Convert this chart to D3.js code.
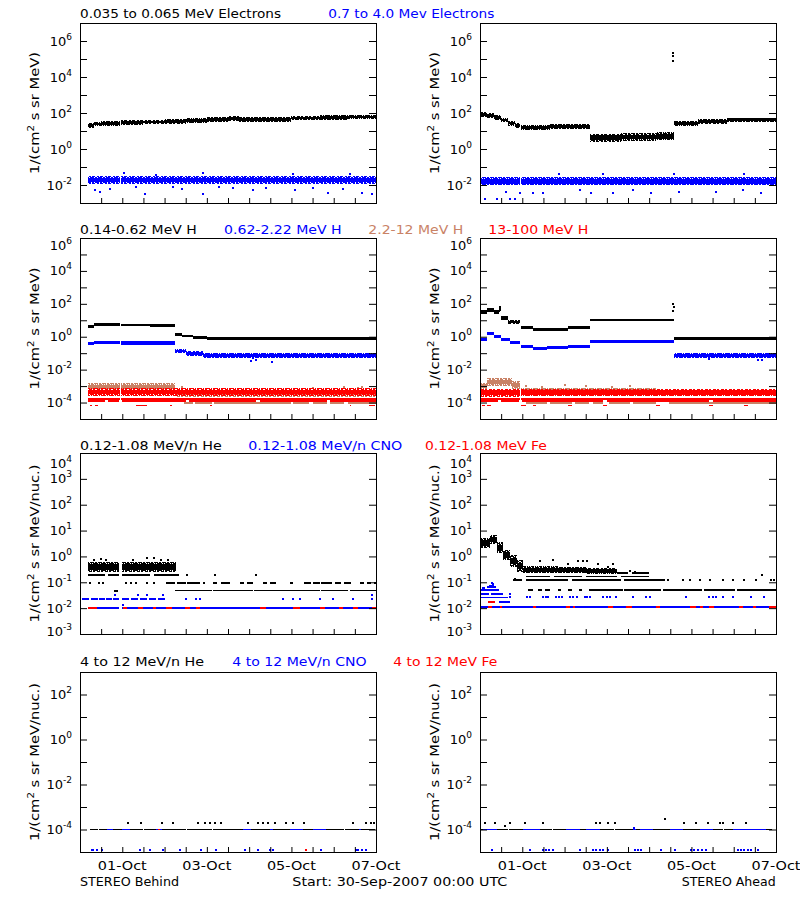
<!DOCTYPE html>
<html><head><meta charset="utf-8">
<script src="https://cdn.jsdelivr.net/npm/d3@7"></script>
<style>
body{margin:0;background:#fff}
svg{display:block;font-family:"DejaVu Sans",sans-serif}
.data rect{shape-rendering:crispEdges}
</style></head><body>
<svg id="c" width="800" height="900"></svg>
<script>
// ---------------- DATA (hours since 30-Sep-2007 00:00 UTC) ----------------
// band: [t0, t1, low, high]   level line: [t0, t1, value]   point: [t, value]

// Row 1: electrons
const behindElecLow = [[4.5,8,15,28],[8,12,18,32],[12,22.5,20,37],[23.5,36,21,40],[36,48,23,43],[48,60,25,47],[60,72,28,52],[72,84,32,58],[84,90,36,64],[90,108,32,58],[108,120,33,60],[120,136,39,70],[136,152,41,74],[152,168,45,80]];
const behindElecHigh = [[4.5,22.5,0.011,0.032],[23.5,168,0.011,0.032]];
const behindElecHighPts = [[8.5,0.0052],[11.3,0.0043],[17,0.006],[25,0.045],[32,0.0078],[36.8,0.0032],[43,0.036],[53,0.0078],[58,0.006],[69.9,0.0032],[70,0.045],[79,0.0078],[86.8,0.0065],[98,0.0052],[105.7,0.0065],[121,0.042],[121.8,0.0052],[132,0.007],[140.7,0.0035],[149,0.006],[153,0.04],[160,0.0035],[166,0.0032]];
const aheadElecLow = [[0,4,60,120],[4,8,52,100],[8,12,42,80],[12,16,30,55],[16,20,20,38],[20,22.5,15,28],[23.5,40,12,22],[40,62.3,13,25],[62.3,80,2.6,7],[80,100,2.8,7.5],[100,110,3,8.5],[110,124,20,36],[124,140,26,46],[140,168,32,56]];
const aheadElecLowPts = [[109.6,2.2e5],[109.8,1.5e5],[109.5,8e4]];
const aheadElecHigh = [[0,22.5,0.0095,0.028],[23.5,168,0.0095,0.028]];
const aheadElecHighPts = [[2.8,0.0016],[9.4,0.0016],[17,0.0016],[20,0.0016],[15,0.0043],[22.7,0.0035],[30,0.0035],[36,0.0035],[45,0.04],[57,0.005],[63,0.0035],[70,0.04],[75.5,0.0035],[87,0.005],[97,0.0035],[110,0.042],[113,0.0043],[134,0.0043],[149,0.005],[150,0.04],[159.5,0.0035]];

// Row 2: protons
const behindH1 = [[4.5,8,3.4,5],[8,22.5,4.4,6.4],[23.5,40,4.4,6.2],[40,54.2,4.0,5.8],[54.2,58,1.1,1.7],[58,64,0.9,1.3],[64,72,0.72,1.05],[72,120,0.62,1.0],[120,168,0.64,1.02]];
const behindH2 = [[4.5,8,0.3,0.45],[8,22.5,0.36,0.56],[23.5,54.2,0.33,0.52],[54.2,60,0.1,0.19],[60,70,0.07,0.13],[70,168,0.05,0.11]];
const behindH2Pts = [[97,0.035],[98,0.05],[100,0.04],[109,0.03]];
const behindH3 = [[4.5,22.5,0.0005,0.0016],[23.5,54.2,0.0005,0.0015],[54.2,168,0.00022,0.0006],[59,64,9.5e-5],[65,75,9.5e-5],[76,120,9.5e-5],[121,130,9.5e-5],[132,140,9.5e-5],[142,150,9.5e-5],[152,168,9.5e-5]];
const behindH3Pts = [[58,0.0009],[132,0.0008],[150,0.0009],[158,0.0008],[160,0.0009]];
const behindH4 = [[4.5,22.5,0.00024,0.0008],[23.5,168,0.00024,0.00075],[4.5,22.5,1.7e-4],[23.5,168,1.7e-4],[4.5,14,1.25e-4],[16,22,1.25e-4],[24,60,1.25e-4],[62,100,1.25e-4],[102,140,1.25e-4],[142,168,1.25e-4],[5.7,7,6.5e-5],[8.5,10,6.5e-5],[32,37.8,6.5e-5],[51,52,6.5e-5],[73.6,75,6.5e-5],[153,154,6.5e-5],[164,167.6,6.5e-5]];
const aheadH1 = [[0,4,25,42],[4,8,32,52],[8,11,24,40],[11,12,30,70],[12,16,11,18],[16,22.5,6,11],[23.5,30,3,4.8],[30,38,2.2,3.6],[38,50,2.3,3.6],[50,62.3,2.8,4.4],[62.3,110,9,12.5],[110,168,0.64,1.0]];
const aheadH1Pts = [[109.8,100],[110,60],[109.7,35]];
const aheadH2 = [[0,4,0.55,0.85],[4,8,1.2,1.9],[8,12,0.8,1.3],[12,17,0.55,0.8],[17,22.5,0.35,0.55],[23.5,30,0.22,0.32],[30,38,0.15,0.24],[38,50,0.17,0.26],[50,62.3,0.2,0.3],[62.3,110,0.42,0.62],[110,168,0.05,0.11]];
const aheadH2Pts = [[130,0.045],[158,0.04],[160,0.04]];
const aheadH3 = [[0,4,0.0006,0.0016],[4,18,0.001,0.0029],[18,22.5,0.0007,0.002],[23.5,100,0.0003,0.0008],[100,168,0.0003,0.0007],[26,38,9.5e-5],[40,52,9.5e-5],[54,62,9.5e-5],[64,70,9.5e-5],[73,85,9.5e-5],[87,100,9.5e-5],[107,168,9.5e-5]];
const aheadH3Pts = [[26,0.001],[35,0.0009],[48,0.0011],[60,0.001],[75,0.0009],[85,0.001]];
const aheadH4 = [[0,22.5,0.00022,0.0007],[23.5,168,0.00024,0.0007],[0,22.5,1.7e-4],[23.5,168,1.7e-4],[0,10,1.25e-4],[12,22,1.25e-4],[24,70,1.25e-4],[72,130,1.25e-4],[132,168,1.25e-4],[1,3,6.5e-5],[4,6,6.5e-5],[23.5,26,6.5e-5],[30,32,6.5e-5],[50,52,6.5e-5],[70,72,6.5e-5],[100,102,6.5e-5],[130,132,6.5e-5],[150,152,6.5e-5]];

// Row 3: 0.12-1.08 MeV/n heavy ions
const behindHe = [[4.7,22,0.25,0.6],[24,54.5,0.24,0.62],[4.7,14,0.19],[16,22,0.19],[24,40,0.19],[42,56,0.19],[49,54,0.093],[55,60,0.093],[61,68,0.093],[70,71,0.093],[75.5,78,0.093],[80,85,0.093],[90.6,93,0.093],[95,98,0.093],[104,106,0.093],[108,111,0.093],[119,121,0.093],[127,131,0.093],[132,136,0.093],[137,143,0.093],[145,148,0.093],[150,154,0.093],[159,161,0.093],[163,165,0.093],[167,168,0.093],[53.8,75,0.048],[75.5,98,0.048],[98.5,136,0.048],[137,152,0.048],[153,168,0.048]];
const behindHePts = [[8,0.75],[12,0.8],[15,0.7],[30,0.7],[38,0.85],[42,0.9],[46,0.75],[50,0.7],[5.5,0.093],[11,0.093],[13,0.093],[26,0.093],[29,0.093],[32,0.093],[37.8,0.093],[42,0.093],[61,0.19],[76.5,0.19],[100,0.19],[20,0.048],[21,0.048]];
const behindCNO = [[1,5,0.022],[6,10,0.022],[11,14,0.022],[15,18,0.022],[19,22,0.022],[24,28,0.022],[29,33,0.022],[34,38,0.022],[39,43,0.022],[44,48,0.022],[4.7,22,0.0102],[24,166.5,0.0102]];
const behindCNOPts = [[60,0.022],[66,0.022],[68,0.022],[115,0.022],[121,0.022],[124.6,0.022],[136,0.022],[143.5,0.022],[154.8,0.022],[166,0.022],[19.8,0.033],[33,0.033],[37.8,0.033],[47.2,0.033],[166,0.033],[24.5,0.013]];
const behindFe = [[4.7,9.4,0.0102],[24.5,26.4,0.0102],[33,36,0.0102],[41.5,43.4,0.0102],[49,52,0.0102],[59.5,62.3,0.0102],[66,68,0.0102],[102,105.7,0.0102],[120.8,124.6,0.0102],[136,138.8,0.0102],[147,149,0.0102],[154.8,157.6,0.0102],[166,168,0.0102]];
const aheadHe = [[0,5.5,2.2,5],[5.5,9.5,3,6.5],[9.5,13,1.3,3.5],[13,17,0.7,1.8],[17,21,0.4,1.1],[21,24.5,0.25,0.7],[24.5,44,0.22,0.42],[44,60,0.22,0.4],[60,78,0.21,0.36],[78,84,0.23],[86,96,0.23],[26,40,0.17],[42,58,0.17],[60,78,0.17],[80,96,0.17],[18.9,24,0.12],[26,50,0.12],[52,80,0.12],[82,105,0.12],[27,30,0.05],[33,35,0.05],[37,40,0.05],[44,46,0.05],[50,52,0.05],[56,58,0.05],[62,81,0.05],[82,103,0.05],[104,126,0.05],[127,145,0.05],[146,168,0.05]];
const aheadHePts = [[34,0.64],[41.5,0.7],[50,0.5],[55.7,0.64],[58.5,0.64],[61,0.64],[67,0.5],[72.7,0.38],[75.5,0.5],[85,0.28],[88,0.25],[20,0.13],[106.7,0.12],[115.2,0.12],[119,0.12],[124.6,0.12],[130.3,0.12],[137.8,0.12],[143.5,0.12],[150,0.12],[156.7,0.12],[160,0.2],[165.2,0.12],[167,0.12]];
const aheadCNO = [[1,3,0.06],[4,9,0.065],[5,8,0.075],[0,11,0.051],[0,5,0.036],[6,13,0.036],[0,16,0.026],[11,17,0.017],[0,168,0.011]];
const aheadCNOPts = [[6.6,0.09],[7.5,0.085],[17,0.026],[26.4,0.026],[28.3,0.026],[35.9,0.026],[37.3,0.026],[38.7,0.026],[43.4,0.026],[45,0.026],[46.3,0.026],[51,0.026],[53,0.026],[54.8,0.026],[59.5,0.026],[61,0.026],[62.3,0.026],[69.9,0.026],[72,0.026],[74,0.026],[77.4,0.026],[86.8,0.026],[94.4,0.026],[96.3,0.026],[117,0.026],[130,0.026],[132,0.026],[134,0.026],[137.8,0.026],[143.5,0.026],[153.9,0.026],[161.4,0.026],[17,0.036]];
const aheadFe = [[4.7,8.5,0.017],[4.7,6.6,0.011],[11.3,12.3,0.011],[30,32,0.011],[49,51,0.011],[52.9,53.8,0.011],[72.7,75.5,0.011],[83,86,0.011],[100,102,0.011],[119,122.7,0.011],[124.6,126.5,0.011],[130,133,0.011],[147,149,0.011],[154.8,156.7,0.011],[164,168,0.011]];

// Row 4: 4-12 MeV/n heavy ions
const behindHe4 = [[5.7,10,1e-4],[10.6,15.1,1e-4],[18.9,23.6,1e-4],[28.3,36,1e-4],[36.6,43.4,1e-4],[46.3,60,1e-4],[60.6,75,1e-4],[75.6,92.5,1e-4],[97.2,107.6,1e-4],[109.5,119,1e-4],[126.5,132.2,1e-4],[139.7,150,1e-4],[150.6,158.6,1e-4],[159.5,167.7,1e-4]];
const behindHe4Pts = [[27.4,2e-4],[34.9,2e-4],[46.3,2e-4],[52.9,2e-4],[67,2e-4],[70.8,2e-4],[73.6,2e-4],[76.5,2e-4],[80.2,2e-4],[95.3,2e-4],[101,2e-4],[103.8,2e-4],[106.7,2e-4],[110.4,2e-4],[117,2e-4],[120.8,2e-4],[127.4,2e-4],[154.8,2e-4],[162.4,2e-4],[165.2,2e-4],[167,2e-4]];
const behindCNO4 = [[15.1,18.9,1e-4],[23.6,28.3,1e-4],[43.4,46.3,1e-4],[92.5,97.2,1e-4],[107.6,109.5,1e-4],[119,126.5,1e-4],[132.2,139.7,1e-4],[158.6,159.5,1e-4]];
const behindCNO4Pts = [[6.6,1.2e-5],[7.5,1.2e-5],[9.4,1.2e-5],[12.3,1.2e-5],[34,1.2e-5],[39.6,1.2e-5],[47.2,1.2e-5],[56.6,1.2e-5],[68.9,1.2e-5],[77.4,1.2e-5],[93.5,1.2e-5],[101,1.2e-5],[107.6,1.2e-5],[109.5,1.2e-5],[136.9,1.2e-5],[156.7,1.2e-5],[158,1.2e-5],[160,1.2e-5],[162.4,1.2e-5]];
const behindFe4 = [[44,45.5,1e-4]];
const behindFe4Pts = [[128.4,1.2e-5]];
const aheadHe4 = [[0.5,1.9,1e-4],[9.4,16,1e-4],[16.7,24.5,1e-4],[34,41,1e-4],[41.7,49,1e-4],[56.6,60,1e-4],[68,76,1e-4],[76.7,86.8,1e-4],[88.7,90.6,1e-4],[98.2,107.6,1e-4],[115.2,124.6,1e-4],[132.2,138,1e-4],[138.7,143.5,1e-4],[162.4,166,1e-4]];
const aheadHe4Pts = [[2.8,2e-4],[8.5,2e-4],[14.2,1.4e-4],[17,2e-4],[25.5,2e-4],[35.9,2e-4],[66,2e-4],[68,2e-4],[72.7,2e-4],[76.5,2e-4],[105.2,3e-4],[116,2e-4],[122.7,2e-4],[129.3,2e-4],[136,2e-4],[137.8,2e-4],[143.5,2e-4],[151,2e-4]];
const aheadCNO4 = [[1.9,9.4,1e-4],[24.5,34,1e-4],[49,56.6,1e-4],[60,68,1e-4],[86.8,88.7,1e-4],[90.6,98.2,1e-4],[107.6,115.2,1e-4],[124.6,132.2,1e-4],[143.5,162.4,1e-4]];
const aheadCNO4Pts = [[87.5,1.15e-4],[6.6,1.2e-5],[28.3,1.2e-5],[35.9,1.2e-5],[37.5,1.2e-5],[39,1.2e-5],[41.5,1.2e-5],[56.6,1.2e-5],[64.2,1.2e-5],[66,1.2e-5],[68,1.2e-5],[70,1.2e-5],[72.7,1.2e-5],[87.8,1.2e-5],[89.5,1.2e-5],[91.6,1.2e-5],[102.9,1.2e-5],[110.4,1.2e-5],[119.9,1.2e-5],[121.5,1.2e-5],[124,1.2e-5],[126,1.2e-5],[128.4,1.2e-5],[146.3,1.2e-5],[148,1.2e-5],[150,1.2e-5],[152,1.2e-5],[154,1.2e-5],[157.6,1.2e-5]];
const aheadFe4 = [];

// Axis data
const yDomains = [[1e-3,1e7],[1e-5,1e6],[1e-3,1e4],[1e-5,1e3]];
const yLabelExps = [[-2,0,2,4,6],[-4,-2,0,2,4,6],[-3,-2,-1,0,1,2,3,4],[-4,-2,0,2]];
const yTitleParts = [["1/(cm","2"," s sr MeV)"],["1/(cm","2"," s sr MeV)"],["1/(cm","2"," s sr MeV/nuc.)"],["1/(cm","2"," s sr MeV/nuc.)"]];
const xLabelDates = ["2007-10-01","2007-10-03","2007-10-05","2007-10-07"];
const titleTexts = [
  ["0.035 to 0.065 MeV Electrons","0.7 to 4.0 Mev Electrons"],
  ["0.14-0.62 MeV H","0.62-2.22 MeV H","2.2-12 MeV H","13-100 MeV H"],
  ["0.12-1.08 MeV/n He","0.12-1.08 MeV/n CNO","0.12-1.08 MeV Fe"],
  ["4 to 12 MeV/n He","4 to 12 MeV/n CNO","4 to 12 MeV Fe"]];
const footerTexts = ["STEREO Behind","Start: 30-Sep-2007 00:00 UTC","STEREO Ahead"];

// ---------------- STYLE / LAYOUT ----------------
const C = {black:"#000000", blue:"#0000ff", tan:"#c98266", red:"#ff0000"};
const titleColors = [[C.black,C.blue],[C.black,C.blue,C.tan,C.red],[C.black,C.blue,C.red],[C.black,C.blue,C.red]];
const titleX = [[80,328.3],[80,224,368.3,488.3],[80,248.3,425],[80,232.3,393.3]];
const titleW = [[201,166],[116.7,117.7,95,100],[141.7,154,121.7],[124,134.3,104]];
const titleY = [18.3,234.3,450,665.7];
const colsL = [{x0:80,x1:376},{x0:480,x1:776}];
const rowsL = [{y0:23,y1:203},{y0:238,y1:419},{y0:453,y1:634},{y0:672,y1:852}];
const labelTopPad = [7,7,10,7];
const yTitleLen = [122,122,158,158];
// stipple cells for band texture (8x7 tile)
const stipple = [[0,0,3,1],[4,0,2,1],[7,0,1,1],[1,1,2,1],[4,1,3,1],[0,2,1,1],[2,2,4,1],[7,2,1,1],[0,3,2,1],[3,3,1,1],[5,3,3,1],[1,4,3,1],[5,4,2,1],[0,5,2,1],[3,5,2,1],[6,5,2,1],[1,6,1,1],[3,6,3,1],[7,6,1,1]];

const panels = [
 {r:0,c:0,s:[{d:behindElecLow,p:[],col:"black"},{d:behindElecHigh,p:behindElecHighPts,col:"blue"}]},
 {r:0,c:1,s:[{d:aheadElecLow,p:aheadElecLowPts,col:"black"},{d:aheadElecHigh,p:aheadElecHighPts,col:"blue"}]},
 {r:1,c:0,s:[{d:behindH1,p:[],col:"black"},{d:behindH2,p:behindH2Pts,col:"blue"},{d:behindH3,p:behindH3Pts,col:"tan"},{d:behindH4,p:[],col:"red"}]},
 {r:1,c:1,s:[{d:aheadH1,p:aheadH1Pts,col:"black"},{d:aheadH2,p:aheadH2Pts,col:"blue"},{d:aheadH3,p:aheadH3Pts,col:"tan"},{d:aheadH4,p:[],col:"red"}]},
 {r:2,c:0,s:[{d:behindHe,p:behindHePts,col:"black"},{d:behindCNO,p:behindCNOPts,col:"blue"},{d:behindFe,p:[],col:"red"}]},
 {r:2,c:1,s:[{d:aheadHe,p:aheadHePts,col:"black"},{d:aheadCNO,p:aheadCNOPts,col:"blue"},{d:aheadFe,p:[],col:"red"}]},
 {r:3,c:0,s:[{d:behindHe4,p:behindHe4Pts,col:"black"},{d:behindCNO4,p:behindCNO4Pts,col:"blue"},{d:behindFe4,p:behindFe4Pts,col:"red"}]},
 {r:3,c:1,s:[{d:aheadHe4,p:aheadHe4Pts,col:"black"},{d:aheadCNO4,p:aheadCNO4Pts,col:"blue"},{d:aheadFe4,p:[],col:"red"}]}
];

const START = Date.UTC(2007,8,30);
const END = START + 168*36e5;
const toDate = h => new Date(START + h*36e5);
const svg = d3.select("#c");
const defs = svg.append("defs");
Object.keys(C).forEach(k => {
  const pat = defs.append("pattern").attr("id","st-"+k).attr("width",8).attr("height",7).attr("patternUnits","userSpaceOnUse");
  pat.selectAll("rect").data(stipple).join("rect")
    .attr("x",d=>d[0]).attr("y",d=>d[1]).attr("width",d=>d[2]).attr("height",d=>d[3])
    .attr("fill",C[k]).attr("shape-rendering","crispEdges");
});

panels.forEach((P, i) => {
  const {x0,x1} = colsL[P.c], {y0,y1} = rowsL[P.r];
  const x = d3.scaleUtc().domain([new Date(START), new Date(END)]).range([x0, x1]);
  const y = d3.scaleLog().domain(yDomains[P.r]).range([y1, y0]);
  const X = h => x(toDate(h));
  const g = svg.append("g");
  defs.append("clipPath").attr("id","clip"+i).append("rect").attr("x",x0).attr("y",y0).attr("width",x1-x0+1).attr("height",y1-y0+1);
  const dg = g.append("g").attr("class","data").attr("clip-path",`url(#clip${i})`);
  P.s.forEach(s => {
    const sg = dg.append("g").attr("fill", C[s.col]);
    const bands = s.d.filter(d => d.length === 4), lines = s.d.filter(d => d.length === 3);
    const bh = d => y(d[2]) - y(d[3]);
    // band: stippled outer, solid core
    sg.selectAll(null).data(bands).join("rect")
      .attr("x", d => X(d[0]))
      .attr("width", d => Math.max(X(d[1]) - X(d[0]), 1.5))
      .attr("y", d => y(d[3]))
      .attr("height", d => Math.max(bh(d), 1.6))
      .attr("fill", d => bh(d) > 4 ? `url(#st-${s.col})` : C[s.col]);
    sg.selectAll(null).data(bands.filter(d => bh(d) > 4)).join("rect")
      .attr("x", d => X(d[0]))
      .attr("width", d => Math.max(X(d[1]) - X(d[0]), 1.5))
      .attr("y", d => y(d[3]) + bh(d) * 0.22)
      .attr("height", d => bh(d) * 0.56);
    sg.selectAll(null).data(lines).join("rect")
      .attr("x", d => X(d[0]))
      .attr("width", d => Math.max(X(d[1]) - X(d[0]), 1.5))
      .attr("y", d => y(d[2]) - 0.8)
      .attr("height", 1.6);
    sg.selectAll(null).data(s.p).join("rect")
      .attr("x", d => X(d[0]) - 1).attr("y", d => y(d[1]) - 1)
      .attr("width", 2).attr("height", 2);
  });
  // box
  g.append("rect").attr("x", x0+0.5).attr("y", y0+0.5).attr("width", x1-x0).attr("height", y1-y0)
    .attr("fill","none").attr("stroke","#000");
  // y ticks (every decade)
  const e0 = Math.round(Math.log10(yDomains[P.r][0])), e1 = Math.round(Math.log10(yDomains[P.r][1]));
  const decs = d3.range(e0+1, e1).map(e => Math.pow(10, e));
  g.append("g").attr("transform",`translate(${x0},0)`).call(d3.axisLeft(y).tickValues(decs).tickSize(-7).tickFormat(()=>"")).call(a=>a.select(".domain").remove());
  g.append("g").attr("transform",`translate(${x1},0)`).call(d3.axisRight(y).tickValues(decs).tickSize(-7).tickFormat(()=>"")).call(a=>a.select(".domain").remove());
  // x ticks every 12 h
  const xt = d3.utcHour.every(12).range(new Date(START+1), new Date(END));
  g.append("g").attr("transform",`translate(0,${y1})`).call(d3.axisBottom(x).tickValues(xt).tickSize(-5).tickFormat(()=>"")).call(a=>a.select(".domain").remove());
  // y labels (kept inside the box vertically, like the original)
  yLabelExps[P.r].forEach(e => {
    const yc = Math.min(Math.max(y(Math.pow(10,e)), y0 + labelTopPad[P.r]), y1 - 3);
    const t = g.append("text").attr("x", x0-8).attr("y", yc + 4.5)
      .attr("text-anchor","end").style("font-size","13px").attr("fill","#000");
    t.append("tspan").text("10");
    t.append("tspan").attr("dy",-6).style("font-size","9px").text(String(e));
  });
  // y title
  const parts = yTitleParts[P.r];
  const yt = g.append("text").attr("transform",`translate(${x0-41},${(y0+y1)/2}) rotate(-90)`)
    .attr("text-anchor","middle").style("font-size","13px").attr("textLength", yTitleLen[P.r]).attr("lengthAdjust","spacingAndGlyphs");
  yt.append("tspan").text(parts[0]);
  yt.append("tspan").attr("dy",-5).style("font-size","9px").text(parts[1]);
  yt.append("tspan").attr("dy",5).text(parts[2]);
  // x labels in bottom row
  if (P.r === 3) {
    xLabelDates.forEach(ds => {
      const d = new Date(ds + "T00:00:00Z");
      g.append("text").attr("x", x(d)).attr("y", 870).attr("text-anchor","middle")
        .style("font-size","13px").attr("textLength",49).attr("lengthAdjust","spacingAndGlyphs")
        .text(d3.utcFormat("%d-%b")(d));
    });
  }
});

// titles
titleTexts.forEach((row, r) => row.forEach((txt, k) => {
  svg.append("text").attr("x", titleX[r][k]).attr("y", titleY[r]).attr("fill", titleColors[r][k])
    .style("font-size","13px").attr("textLength", titleW[r][k]).attr("lengthAdjust","spacingAndGlyphs").text(txt);
}));
// footer
svg.append("text").attr("x",80).attr("y",885.7).style("font-size","13px").attr("textLength",99).attr("lengthAdjust","spacingAndGlyphs").text(footerTexts[0]);
svg.append("text").attr("x",292.3).attr("y",885.7).style("font-size","13px").attr("textLength",215).attr("lengthAdjust","spacingAndGlyphs").text(footerTexts[1]);
svg.append("text").attr("x",775.7).attr("y",885.7).attr("text-anchor","end").style("font-size","13px").attr("textLength",94).attr("lengthAdjust","spacingAndGlyphs").text(footerTexts[2]);
</script>
</body></html>
